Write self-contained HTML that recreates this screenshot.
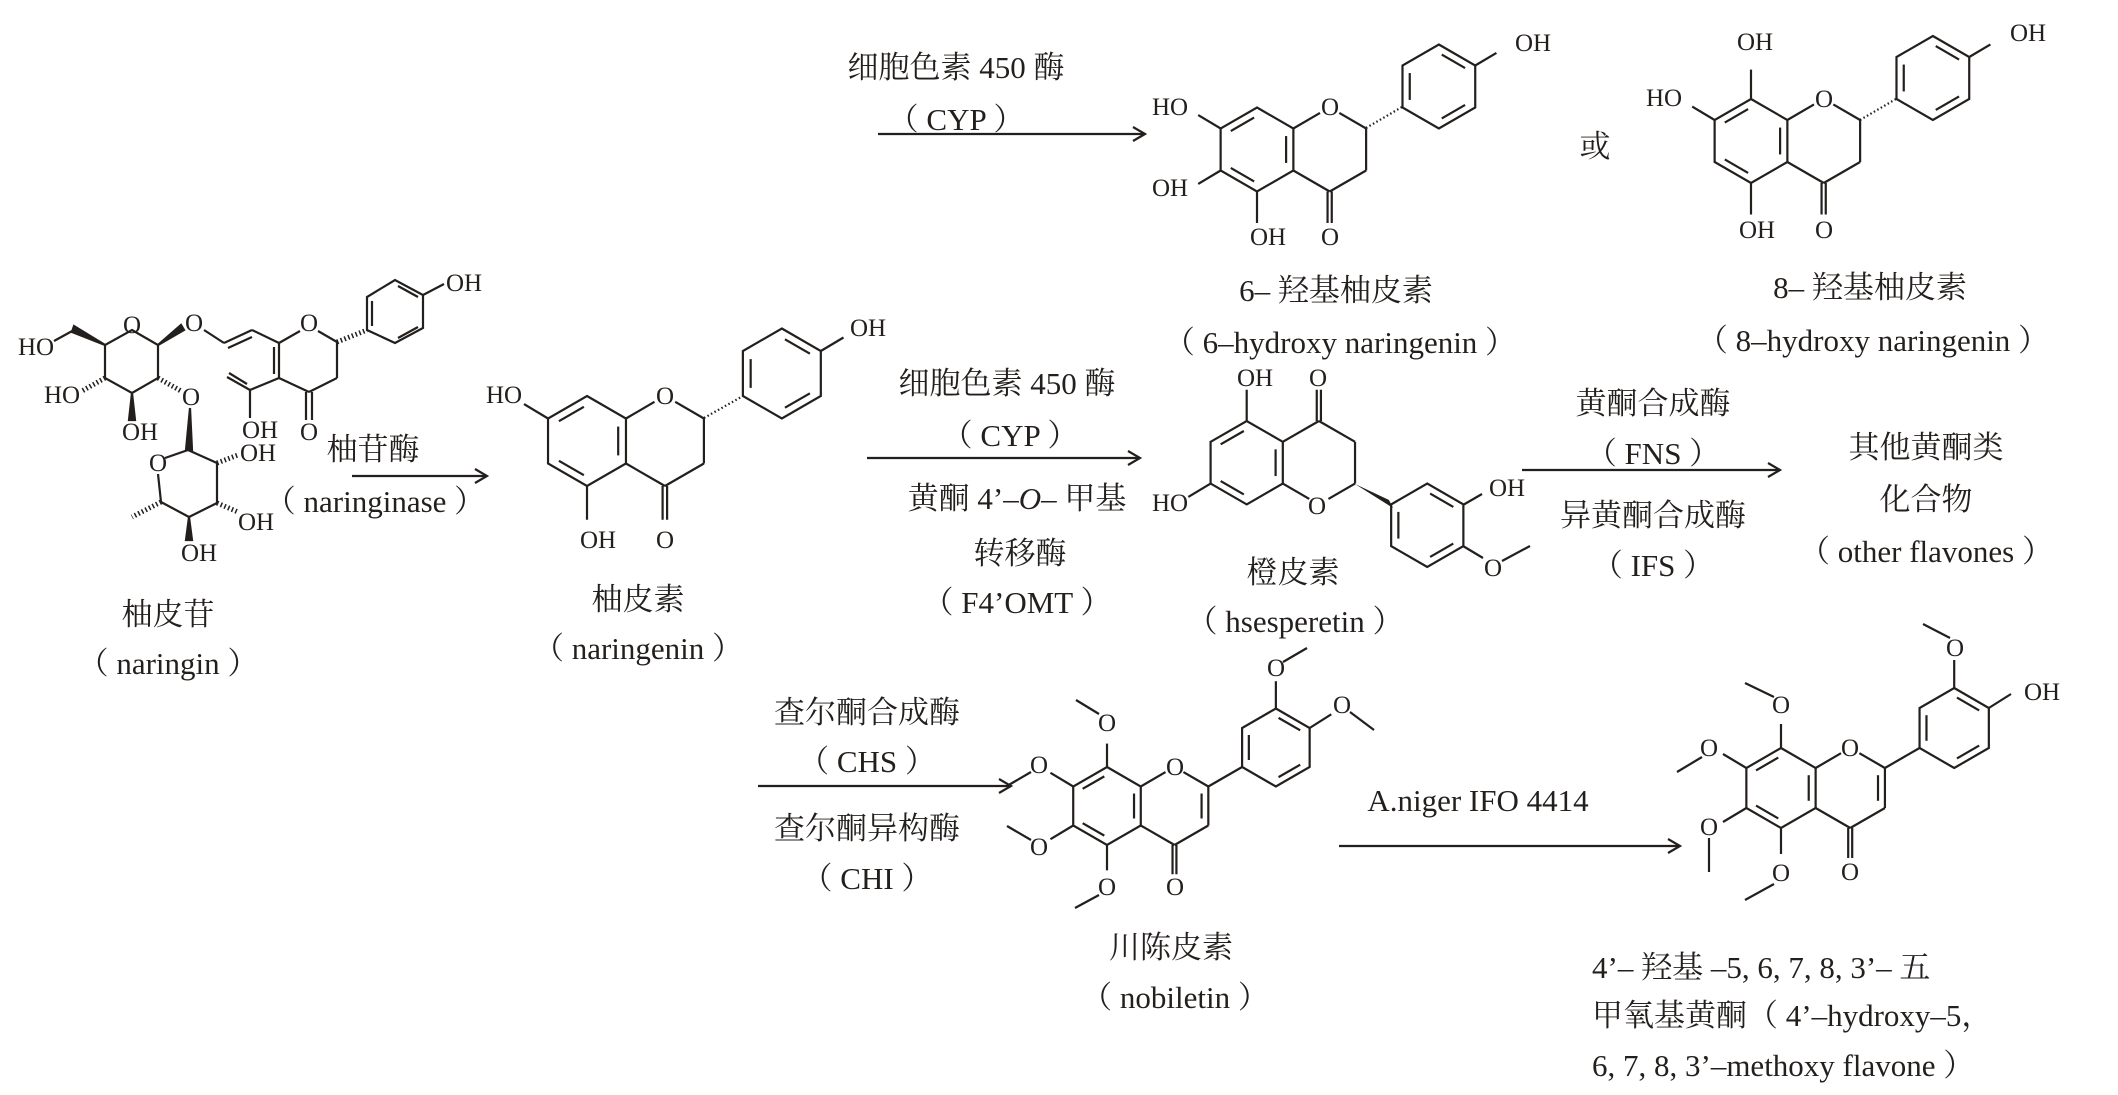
<!DOCTYPE html>
<html><head><meta charset="utf-8"><style>
html,body{margin:0;padding:0;background:#fff}
svg{display:block}
line,polyline,polygon,path{vector-effect:non-scaling-stroke}
.b{stroke:#231f1d;stroke-width:2.2;fill:none}
text{font-family:"Liberation Serif","Noto Serif CJK SC",serif;fill:#231f1d}
.a{font-size:25px;text-anchor:middle}
.l{font-size:31px;text-anchor:middle}
.ll{font-size:31px}
</style></head><body>
<svg width="2118" height="1095" viewBox="0 0 2118 1095" xmlns="http://www.w3.org/2000/svg">
<defs>
<g id="core" class="b">
<polygon points="0,-1 .866,-.5 .866,.5 0,1 -.866,.5 -.866,-.5"/>
<line x1="-.624" y1="-.44" x2="-.069" y2="-.76"/>
<line x1=".693" y1="-.32" x2=".693" y2=".32"/>
<line x1="-.069" y1=".76" x2="-.624" y2=".44"/>
<line x1=".866" y1="-.5" x2="1.5" y2="-.87"/>
<line x1="1.96" y1="-.87" x2="2.598" y2="-.5"/>
<line x1="2.598" y1="-.5" x2="2.598" y2=".5"/>
<line x1="2.598" y1=".5" x2="1.732" y2="1"/>
<line x1="1.732" y1="1" x2=".866" y2=".5"/>
<line x1="1.68" y1="1" x2="1.68" y2="1.75"/>
<line x1="1.78" y1="1" x2="1.78" y2="1.75"/>
<polygon points="4.33,-2.5 5.196,-2 5.196,-1 4.33,-.5 3.464,-1 3.464,-2"/>
<line x1="3.637" y1="-1.18" x2="3.637" y2="-1.82"/>
<line x1="4.399" y1="-2.26" x2="4.954" y2="-1.94"/>
<line x1="4.954" y1="-1.06" x2="4.399" y2="-.74"/>
</g>
</defs>

<!-- ===== Naringin ===== -->
<g class="b">
<polygon points="132,330 158,345 158,378 132,393 105,378 105,345" fill="none"/>
<polygon points="105,345 74,326 72,332" fill="#231f1d"/>
<line x1="74" y1="330" x2="54" y2="341"/>
<line x1="105" y1="378" x2="82" y2="391" stroke-dasharray="1.5 2.5" stroke-width="5"/>
<polygon points="132,393 129,420 135,420" fill="#231f1d"/>
<polygon points="158,345 184,330 181,325" fill="#231f1d"/>
<line x1="204" y1="330" x2="224" y2="343"/>
<line x1="224" y1="343" x2="252" y2="330"/>
<line x1="228" y1="348" x2="252" y2="337"/>
<line x1="252" y1="330" x2="279" y2="343"/>
<line x1="279" y1="343" x2="279" y2="378"/>
<line x1="274" y1="347" x2="274" y2="374"/>
<line x1="279" y1="378" x2="250" y2="390"/>
<line x1="250" y1="390" x2="250" y2="418"/>
<line x1="250" y1="390" x2="227" y2="377"/>
<line x1="247" y1="384" x2="229" y2="373"/>
<line x1="279" y1="343" x2="300" y2="331"/>
<line x1="318" y1="331" x2="337" y2="342"/>
<line x1="337" y1="342" x2="337" y2="378"/>
<line x1="337" y1="378" x2="309" y2="392"/>
<line x1="309" y1="392" x2="279" y2="378"/>
<line x1="306" y1="392" x2="306" y2="420"/>
<line x1="312" y1="392" x2="312" y2="420"/>
<line x1="337" y1="342" x2="367" y2="330" stroke-dasharray="1.5 2.5" stroke-width="5"/>
<polygon points="367,330 367,297 395,280 423,295 423,328 395,343" fill="none"/>
<line x1="372" y1="301" x2="372" y2="326"/>
<line x1="398" y1="286" x2="418" y2="297"/>
<line x1="418" y1="327" x2="398" y2="338"/>
<line x1="423" y1="295" x2="444" y2="284"/>
<line x1="158" y1="378" x2="181" y2="391" stroke-dasharray="1.5 2.5" stroke-width="5"/>
<polygon points="190,408 186,450 192,450" fill="#231f1d"/>
<line x1="165" y1="458" x2="188" y2="450"/>
<line x1="188" y1="450" x2="217" y2="463"/>
<line x1="217" y1="463" x2="217" y2="503"/>
<line x1="217" y1="503" x2="189" y2="517"/>
<line x1="189" y1="517" x2="161" y2="502"/>
<line x1="161" y1="502" x2="158" y2="474"/>
<line x1="217" y1="463" x2="238" y2="455" stroke-dasharray="1.5 2.5" stroke-width="5"/>
<line x1="217" y1="503" x2="238" y2="512" stroke-dasharray="1.5 2.5" stroke-width="5"/>
<polygon points="189,517 186,540 192,540" fill="#231f1d"/>
<line x1="161" y1="502" x2="132" y2="517" stroke-dasharray="1.5 2.5" stroke-width="5"/>
</g>
<text class="a" x="132" y="333">O</text>
<text class="a" x="36" y="355">HO</text>
<text class="a" x="62" y="403">HO</text>
<text class="a" x="140" y="440">OH</text>
<text class="a" x="194" y="331">O</text>
<text class="a" x="260" y="438">OH</text>
<text class="a" x="309" y="331">O</text>
<text class="a" x="309" y="440">O</text>
<text class="a" x="464" y="291">OH</text>
<text class="a" x="191" y="405">O</text>
<text class="a" x="158" y="471">O</text>
<text class="a" x="258" y="461">OH</text>
<text class="a" x="256" y="530">OH</text>
<text class="a" x="199" y="561">OH</text>
<text class="l" x="168" y="625">柚皮苷</text>
<text class="l" x="168" y="674">（ naringin ）</text>
<text class="l" x="373" y="460">柚苷酶</text>
<text class="l" x="375" y="512">（ naringinase ）</text>
<g class="b"><line x1="352" y1="476" x2="487" y2="476"/><polyline points="475,469 487,476 475,483"/></g>

<!-- ===== Naringenin ===== -->
<g transform="translate(587,441) scale(45)">
<use href="#core"/>
<g class="b">
<line x1="-.866" y1="-.5" x2="-1.4" y2="-.82"/>
<line x1="0" y1="1" x2="0" y2="1.75"/>
<line x1="5.196" y1="-2" x2="5.7" y2="-2.3"/>
</g></g>
<line class="b" x1="704" y1="418" x2="743" y2="396" stroke-dasharray="1.5 2.5" stroke-width="6"/>
<text class="a" x="504" y="403">HO</text>
<text class="a" x="598" y="548">OH</text>
<text class="a" x="665" y="548">O</text>
<text class="a" x="665" y="404">O</text>
<text class="a" x="868" y="336">OH</text>
<text class="l" x="638" y="610">柚皮素</text>
<text class="l" x="638" y="659">（ naringenin ）</text>

<!-- ===== top arrow ===== -->
<text class="l" x="956" y="78">细胞色素 450 酶</text>
<text class="l" x="956" y="130">（ CYP ）</text>
<g class="b"><line x1="878" y1="134" x2="1145" y2="134"/><polyline points="1133,127 1145,134 1133,141"/></g>

<!-- ===== 6-hydroxy ===== -->
<g transform="translate(1257,149.5) scale(42)">
<use href="#core"/>
<g class="b">
<line x1="-.866" y1="-.5" x2="-1.4" y2="-.82"/>
<line x1="-.866" y1=".5" x2="-1.4" y2=".82"/>
<line x1="0" y1="1" x2="0" y2="1.75"/>
<line x1="5.196" y1="-2" x2="5.7" y2="-2.3"/>
</g></g>
<line class="b" x1="1366" y1="128" x2="1402" y2="107" stroke-dasharray="1.5 2.5" stroke-width="6"/>
<text class="a" x="1170" y="115">HO</text>
<text class="a" x="1170" y="196">OH</text>
<text class="a" x="1268" y="245">OH</text>
<text class="a" x="1330" y="245">O</text>
<text class="a" x="1330" y="115">O</text>
<text class="a" x="1533" y="51">OH</text>
<text class="l" x="1595" y="157">或</text>
<text class="l" x="1336" y="301">6– 羟基柚皮素</text>
<text class="l" x="1340" y="353">（ 6–hydroxy naringenin ）</text>

<!-- ===== 8-hydroxy ===== -->
<g transform="translate(1751,141) scale(42)">
<use href="#core"/>
<g class="b">
<line x1="0" y1="-1" x2="0" y2="-1.7"/>
<line x1="-.866" y1="-.5" x2="-1.4" y2="-.82"/>
<line x1="0" y1="1" x2="0" y2="1.75"/>
<line x1="5.196" y1="-2" x2="5.7" y2="-2.3"/>
</g></g>
<line class="b" x1="1860" y1="120" x2="1896" y2="99" stroke-dasharray="1.5 2.5" stroke-width="6"/>
<text class="a" x="1755" y="50">OH</text>
<text class="a" x="1664" y="106">HO</text>
<text class="a" x="1757" y="238">OH</text>
<text class="a" x="1824" y="238">O</text>
<text class="a" x="1824" y="107">O</text>
<text class="a" x="2028" y="41">OH</text>
<text class="l" x="1870" y="298">8– 羟基柚皮素</text>
<text class="l" x="1873" y="351">（ 8–hydroxy naringenin ）</text>

<!-- ===== middle arrow ===== -->
<text class="l" x="1007" y="394">细胞色素 450 酶</text>
<text class="l" x="1010" y="446">（ CYP ）</text>
<g class="b"><line x1="867" y1="458" x2="1140" y2="458"/><polyline points="1128,451 1140,458 1128,465"/></g>
<text class="l" x="1017" y="509">黄酮 4’–<tspan font-style="italic">O</tspan>– 甲基</text>
<text class="l" x="1020" y="564">转移酶</text>
<text class="l" x="1017" y="613">（ F4’OMT ）</text>

<!-- ===== Hesperetin ===== -->
<g transform="translate(1246.7,462.7) scale(41.7,-41.7)">
<use href="#core"/>
<g class="b">
<line x1="-.866" y1="-.5" x2="-1.4" y2="-.82"/>
<line x1="0" y1="1" x2="0" y2="1.75"/>
</g></g>
<polygon points="1355,484 1389,500 1393,508" fill="#231f1d"/>
<g class="b">
<line x1="1463" y1="505" x2="1482" y2="494"/>
<line x1="1463" y1="546" x2="1483" y2="558"/>
<line x1="1502" y1="561" x2="1530" y2="546"/>
</g>
<text class="a" x="1255" y="386">OH</text>
<text class="a" x="1318" y="386">O</text>
<text class="a" x="1170" y="511">HO</text>
<text class="a" x="1317" y="514">O</text>
<text class="a" x="1507" y="496">OH</text>
<text class="a" x="1493" y="576">O</text>
<text class="l" x="1293" y="583">橙皮素</text>
<text class="l" x="1295" y="632">（ hsesperetin ）</text>

<!-- ===== FNS arrow ===== -->
<text class="l" x="1653" y="414">黄酮合成酶</text>
<text class="l" x="1653" y="464">（ FNS ）</text>
<g class="b"><line x1="1522" y1="470" x2="1780" y2="470"/><polyline points="1768,463 1780,470 1768,477"/></g>
<text class="l" x="1653" y="526">异黄酮合成酶</text>
<text class="l" x="1653" y="576">（ IFS ）</text>
<text class="l" x="1926" y="458">其他黄酮类</text>
<text class="l" x="1926" y="510">化合物</text>
<text class="l" x="1926" y="562">（ other flavones ）</text>

<!-- ===== CHS arrow ===== -->
<text class="l" x="867" y="723">查尔酮合成酶</text>
<text class="l" x="867" y="772">（ CHS ）</text>
<g class="b"><line x1="758" y1="786" x2="1011" y2="786"/><polyline points="999,779 1011,786 999,793"/></g>
<text class="l" x="867" y="839">查尔酮异构酶</text>
<text class="l" x="867" y="889">（ CHI ）</text>

<!-- ===== Nobiletin ===== -->
<g transform="translate(1107,806) scale(39)">
<use href="#core"/>
<g class="b">
<line x1="2.425" y1="-.32" x2="2.425" y2=".32"/>
<line x1="2.598" y1="-.5" x2="3.464" y2="-1"/>
<line x1="0" y1="-1" x2="0" y2="-1.6"/>
<line x1="-.866" y1="-.5" x2="-1.45" y2="-.85"/>
<line x1="-.866" y1=".5" x2="-1.45" y2=".85"/>
<line x1="0" y1="1" x2="0" y2="1.65"/>
<line x1="4.33" y1="-2.5" x2="4.33" y2="-3.2"/>
<line x1="5.196" y1="-2" x2="5.75" y2="-2.35"/>
</g></g>
<g class="b">
<line x1="1099" y1="714" x2="1076" y2="700"/>
<line x1="1031" y1="772" x2="1007" y2="786"/>
<line x1="1031" y1="840" x2="1007" y2="826"/>
<line x1="1099" y1="895" x2="1075" y2="908"/>
<line x1="1283" y1="662" x2="1307" y2="648"/>
<line x1="1350" y1="712" x2="1374" y2="730"/>
</g>
<text class="a" x="1107" y="731">O</text>
<text class="a" x="1039" y="773">O</text>
<text class="a" x="1039" y="855">O</text>
<text class="a" x="1107" y="895">O</text>
<text class="a" x="1175" y="895">O</text>
<text class="a" x="1175" y="775">O</text>
<text class="a" x="1276" y="676">O</text>
<text class="a" x="1342" y="713">O</text>
<text class="l" x="1171" y="958">川陈皮素</text>
<text class="l" x="1175" y="1008">（ nobiletin ）</text>

<!-- ===== A.niger arrow ===== -->
<text class="l" x="1478" y="811">A.niger IFO 4414</text>
<g class="b"><line x1="1339" y1="846" x2="1680" y2="846"/><polyline points="1668,839 1680,846 1668,853"/></g>

<!-- ===== Product ===== -->
<g transform="translate(1781,788) scale(40)">
<use href="#core"/>
<g class="b">
<line x1="2.425" y1="-.32" x2="2.425" y2=".32"/>
<line x1="2.598" y1="-.5" x2="3.464" y2="-1"/>
<line x1="0" y1="-1" x2="0" y2="-1.6"/>
<line x1="-.866" y1="-.5" x2="-1.45" y2="-.85"/>
<line x1="-.866" y1=".5" x2="-1.45" y2=".85"/>
<line x1="0" y1="1" x2="0" y2="1.65"/>
<line x1="4.33" y1="-2.5" x2="4.33" y2="-3.2"/>
<line x1="5.196" y1="-2" x2="5.75" y2="-2.35"/>
</g></g>
<g class="b">
<line x1="1774" y1="697" x2="1745" y2="683"/>
<line x1="1702" y1="757" x2="1677" y2="772"/>
<line x1="1709" y1="838" x2="1709" y2="872"/>
<line x1="1774" y1="884" x2="1745" y2="900"/>
<line x1="1950" y1="638" x2="1923" y2="624"/>
</g>
<text class="a" x="1781" y="713">O</text>
<text class="a" x="1709" y="756">O</text>
<text class="a" x="1709" y="835">O</text>
<text class="a" x="1781" y="881">O</text>
<text class="a" x="1850" y="880">O</text>
<text class="a" x="1850" y="756">O</text>
<text class="a" x="1955" y="656">O</text>
<text class="a" x="2042" y="700">OH</text>
<text class="ll" x="1592" y="978">4’– 羟基 –5, 6, 7, 8, 3’– 五</text>
<text class="ll" x="1592" y="1026">甲氧基黄酮（ 4’–hydroxy–5，</text>
<text class="ll" x="1592" y="1076">6, 7, 8, 3’–methoxy flavone ）</text>
</svg>
</body></html>
